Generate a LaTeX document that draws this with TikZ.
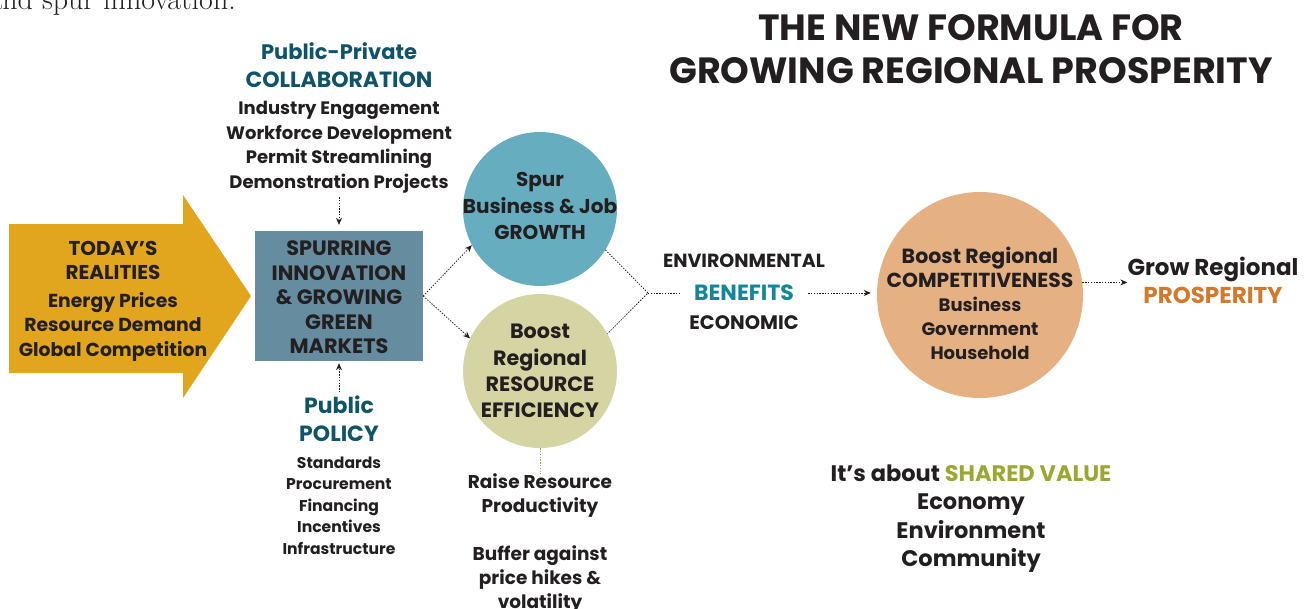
\documentclass[tikz,border=0pt]{standalone}
\usepackage{fontspec}
\setsansfont{Poppins}
\usetikzlibrary{arrows.meta,positioning}
\definecolor{ink}{RGB}{35,31,32}
\definecolor{gold}{RGB}{225,165,30}
\definecolor{slate}{RGB}{102,140,160}
\definecolor{lagoon}{RGB}{102,173,191}
\definecolor{khaki}{RGB}{212,213,163}
\definecolor{peach}{RGB}{229,177,131}
\definecolor{petrol}{RGB}{15,84,104}
\definecolor{benteal}{RGB}{19,135,154}
\definecolor{rust}{RGB}{212,120,42}
\definecolor{moss}{RGB}{156,167,49}
\newcommand\fsz[2]{\fontsize{#1}{#2}\selectfont}
\tikzset{
  >={Stealth[length=7pt,width=6pt]},
  txt/.style 2 args={align=center,inner sep=0pt,text=ink,font=\sffamily\bfseries\fsz{#1}{#2}},
  disc/.style={circle,fill=#1,minimum size=154pt,inner sep=0pt},
  disc/.default=lagoon,
  dots/.style={draw=#1,line width=0.8pt,dash pattern=on 1.4pt off 1.4pt},
  dots/.default=ink,
  flow/.style={dots,->},
}

\begin{document}
\begin{tikzpicture}[x=1pt,y=-1pt]
  \path[use as bounding box] (0,0) rectangle (1309,608);
  \clip (0,0) rectangle (1309,608);
  \node[anchor=base east,inner sep=0pt,text=ink,font=\rmfamily\fsz{30}{30}] (frag) at (236,9) {and spur innovation.};
  \node[txt={36.5}{43}] (t) at (971,49.5) {THE NEW FORMULA FOR\\GROWING REGIONAL PROSPERITY};
  % big yellow arrow
  \fill[gold] (9,224) -- (183,224) -- (183,195) -- (251,296) -- (183,398) -- (183,373) -- (9,373) -- cycle;
  \node[txt={18.8}{24.5}] (tr) at (113,301) {\fsz{20}{24.5}TODAY’S\\\fsz{20}{24.5}REALITIES\\[3pt]Energy Prices\\Resource Demand\\Global Competition};
  \node[txt={20.8}{24.5},fill=slate,minimum width=168pt,minimum height=130pt] (s) at (339,296) {};
  \node[txt={20.8}{24.5}] (st) at (339,297.5) {SPURRING\\INNOVATION\\\& GROWING\\GREEN\\MARKETS};
  \node[txt={18}{24.5}] (pp) at (339,118) {\color{petrol}\fsz{21}{24.5}Public-Private\\[3.5pt]\color{petrol}\fsz{22}{24.5}COLLABORATION\\[2.5pt]Industry Engagement\\Workforce Development\\Permit Streamlining\\Demonstration Projects};
  \node[txt={15.6}{21.5}] (pol) at (339,475) {\color{petrol}\fsz{22}{21.5}Public\\[6.5pt]\color{petrol}\fsz{22}{21.5}POLICY\\[5.5pt]Standards\\Procurement\\Financing\\Incentives\\Infrastructure};
  \node[disc] (a) at (540,209) {};
  \node[txt={20}{26.5}] (sj) at (540,206) {Spur\\Business \& Job\\GROWTH};
  \node[disc=khaki,txt={20.7}{26.3}] (b) at (540,371) {Boost\\Regional\\RESOURCE\\EFFICIENCY};
  \node[txt={22}{26},text=benteal] (ben) at (744,293) {BENEFITS};
  \node[txt={19}{24}] (env) at (744,261) {ENVIRONMENTAL};
  \node[txt={19.5}{24}] (eco) at (744,323) {ECONOMIC};
  \node[disc=peach,minimum size=206pt] (o) at (980,295) {};
  \node[txt={18}{24}] (ot) at (980,303) {\fsz{20.5}{24}Boost Regional\\\fsz{20.3}{24}COMPETITIVENESS\\Business\\Government\\Household};
  \node[txt={23}{28}] (g) at (1213,280) {Grow Regional\\\color{rust}PROSPERITY};
  \node[txt={18.5}{24}] (r) at (540,544) {Raise Resource\\Productivity\\[24pt]Buffer against\\price hikes \&\\volatility};
  \node[txt={22.5}{28.5}] (sv) at (971,518.5) {It’s about \textcolor{moss}{SHARED VALUE}\\Economy\\Environment\\Community};
  % connectors
  \coordinate (m) at (648,293);
  \draw[flow,shorten <=4pt,shorten >=6pt] (pp.south) -- (s.north);
  \draw[flow,shorten <=3pt,shorten >=2pt] (pol.north) -- (s.south);
  \draw[flow] (s.east) -- (a.208);
  \draw[flow] (s.east) -- (b.155);
  \draw[dots] (a.-32) -- (m) -- (b.29);
  \draw[dots,shorten >=13pt] (m) -- (ben.west);
  \draw[flow,shorten <=14pt,shorten >=6pt] (ben.east) -- (o.west|-ben.east);
  \draw[flow] (o.7) -- (o.7-|g.west);
  \draw[dots=moss] (b.south) -- (r.north);
\end{tikzpicture}
\end{document}
